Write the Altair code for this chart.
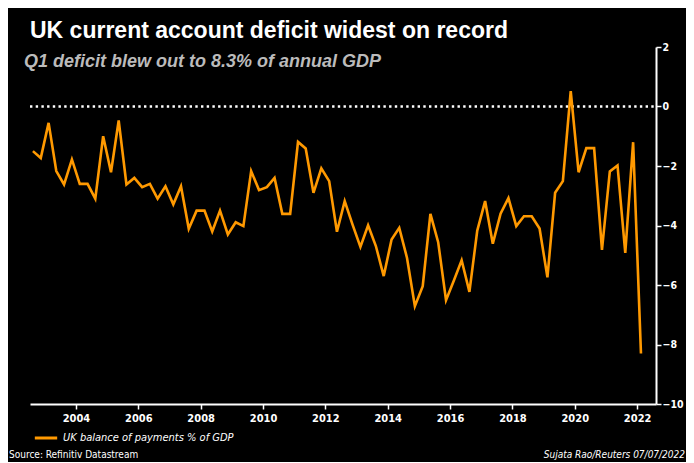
import altair as alt
import pandas as pd

# Quarterly UK current account balance, % of GDP, 2002 Q3 .. 2022 Q1
values = [
    -1.50, -1.73, -0.55, -2.17, -2.62, -1.78, -2.60, -2.60, -3.10, -1.00,
    -2.21, -0.47, -2.62, -2.40, -2.71, -2.60, -3.10, -2.68, -3.29, -2.68,
    -4.11, -3.50, -3.50, -4.20, -3.50, -4.30, -3.89,
    -4.02, -2.17, -2.81, -2.71, -2.40, -3.61, -3.61, -1.19, -1.41, -2.90,
    -2.08, -2.51, -4.21, -3.18, -3.97, -4.72, -3.99, -4.69, -5.70, -4.47,
    -4.08, -5.09, -6.71, -6.04, -3.61, -4.56, -6.51, -5.85,
    -5.17, -6.23, -4.17, -3.18, -4.61, -3.60, -3.08, -4.02, -3.69, -3.69,
    -4.10, -5.74, -2.90, -2.51, 0.52, -2.21, -1.40, -1.40, -4.82, -2.18,
    -1.98, -4.92, -1.20, -8.30,
]
quarters = pd.period_range("2002Q3", periods=len(values), freq="Q")
# plotted at mid-quarter
dates = [(q.start_time + pd.Timedelta(days=45)).strftime("%Y-%m-%d") for q in quarters]
series_name = "UK balance of payments % of GDP"
x_ticks = list(range(2004, 2023, 2))
y_ticks = list(range(-10, 3, 2))

title_text = "UK current account deficit widest on record"
subtitle_text = "Q1 deficit blew out to 8.3% of annual GDP"
source_text = "Source: Refinitiv Datastream"
credit_text = "Sujata Rao/Reuters 07/07/2022"

df = pd.DataFrame({"date": dates, "value": values, "series": series_name})

FONT = "'DejaVu Sans Condensed', 'Liberation Sans Narrow', 'Liberation Sans', sans-serif"
SANS = "'Liberation Sans', Arial, sans-serif"
W, H = 626, 357
PL, PT, PR, PB = 22, 39, 30, 58

x_enc = alt.X(
    "date:T",
    scale=alt.Scale(domain=["2002-07-12", "2022-08-10"]),
    axis=alt.Axis(
        values=[alt.DateTime(year=y, month=1, date=1) for y in x_ticks],
        format="%Y", title=None, grid=False,
        domainColor="white", domainWidth=2, tickColor="white", tickWidth=1.5,
        tickSize=5, labelColor="white", labelFont=FONT, labelFontWeight="bold",
        labelFontSize=11, labelPadding=3,
    ),
)
y_enc = alt.Y(
    "value:Q",
    scale=alt.Scale(domain=[-10, 2], nice=False, zero=False),
    axis=alt.Axis(
        orient="right", values=y_ticks, title=None, grid=False,
        domainColor="white", domainWidth=2, tickColor="white", tickWidth=1.5,
        tickSize=5, labelColor="white", labelFont=FONT, labelFontWeight="bold",
        labelFontSize=10.5, labelPadding=1,
    ),
)

line = alt.Chart(df).mark_line(strokeWidth=2.6, strokeJoin="miter").encode(
    x=x_enc,
    y=y_enc,
    color=alt.Color(
        "series:N",
        scale=alt.Scale(domain=[series_name], range=["#FF9900"]),
        legend=alt.Legend(
            title=None, orient="none", legendX=3, legendY=378,
            symbolType="stroke", symbolStrokeWidth=3, symbolSize=500,
            labelColor="white", labelFont=FONT, labelFontStyle="italic",
            labelFontSize=11, labelOffset=4, padding=0, labelLimit=0,
        ),
    ),
)

zero = alt.Chart(pd.DataFrame({"z": [0]})).mark_rule(
    color="white", strokeWidth=2.4, strokeDash=[2.4, 3.3]
).encode(y=alt.Y("z:Q", scale=alt.Scale(domain=[-10, 2], nice=False)),
         x=alt.value(0), x2=alt.value(W))

def label(text, x, y, size, color="white", weight="normal", style="normal", align="left", font=FONT):
    return alt.Chart(pd.DataFrame({"t": [text]})).mark_text(
        align=align, baseline="middle", fontSize=size, fontWeight=weight,
        fontStyle=style, color=color, font=font,
    ).encode(text="t:N", x=alt.value(x), y=alt.value(y))

t1 = label(title_text, 0, -16, 23, weight="bold", font=SANS)
t2 = label(subtitle_text, -6, 15, 18, color="#BBBBBB", weight="bold", style="italic", font=SANS)
t3 = label(source_text, -21, 408, 10)
t4 = label(credit_text, W + PR - 1, 408, 10, style="italic", align="right")

chart = alt.layer(zero, line, t1, t2, t3, t4).properties(
    width=W, height=H,
    autosize=alt.AutoSizeParams(type="none"),
    padding={"left": PL, "top": PT, "right": PR, "bottom": PB},
    background="black",
).configure_view(stroke=None)

chart.save("out.html", embed_options={"renderer": "svg", "actions": False})
